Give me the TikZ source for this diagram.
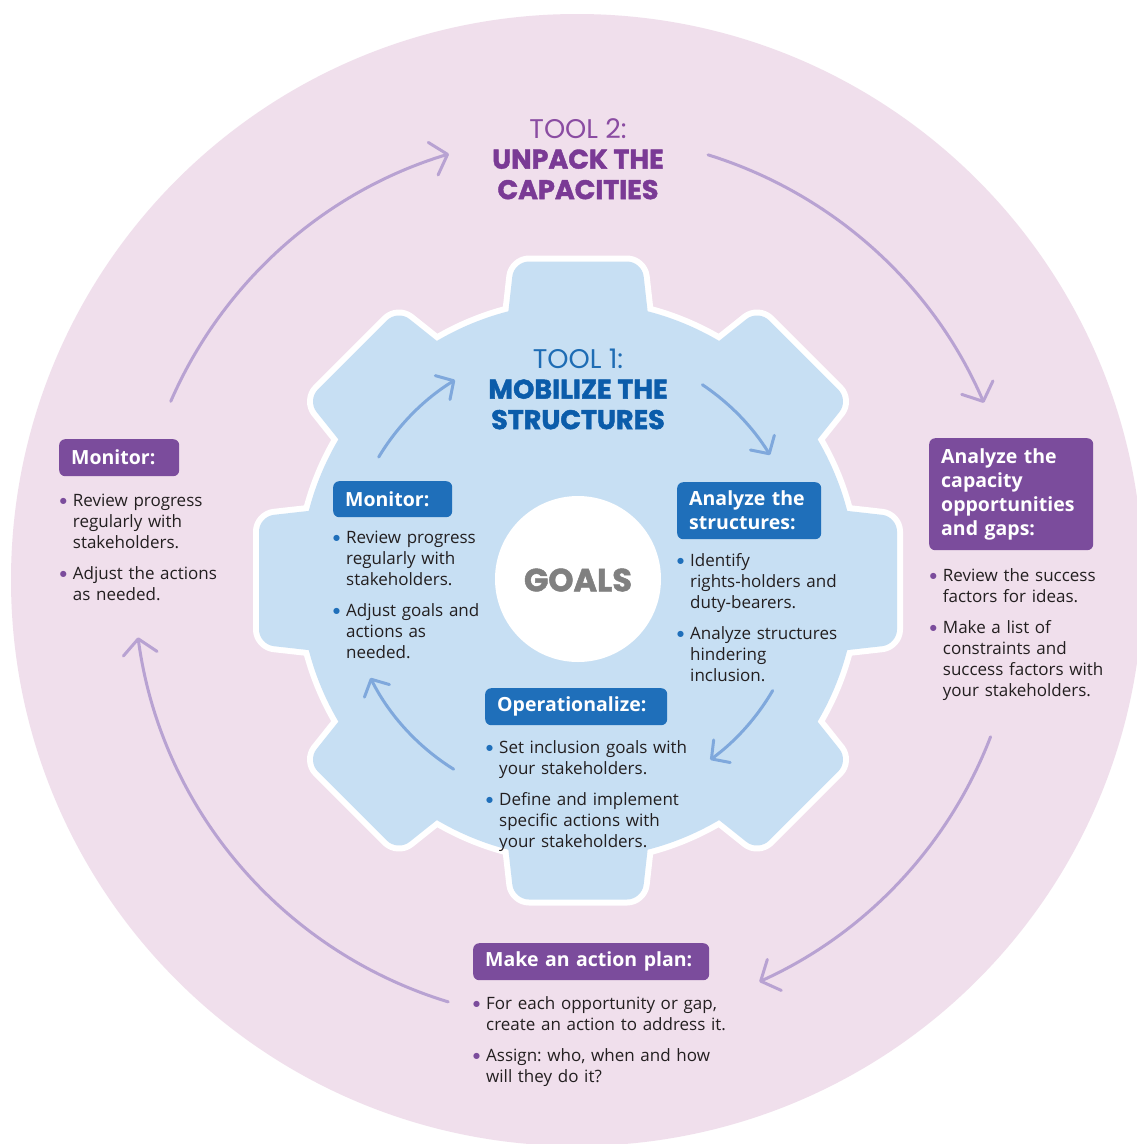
\documentclass[tikz,border=0pt]{standalone}
\usepackage{fontspec}
\setmainfont{Open Sans}
\newfontfamily\titlefont{Poppins}[BoldFeatures={FakeBold=1.6}]
\newfontfamily\bulfont{DejaVu Sans}
\usetikzlibrary{arrows.meta,calc}
\frenchspacing

\definecolor{bgpink}{HTML}{F0DFEC}
\definecolor{gearblue}{HTML}{C7DFF3}
\definecolor{boxpurple}{HTML}{7B4C9C}
\definecolor{boxblue}{HTML}{1F6FBA}
\definecolor{titlepurple}{HTML}{7A3A95}
\definecolor{toolpurple}{HTML}{8A4CA2}
\definecolor{titleblue}{HTML}{0B5CAA}
\definecolor{toolblue}{HTML}{1E6CB4}
\definecolor{arrowpurple}{HTML}{B8A2D2}
\definecolor{arrowblue}{HTML}{7FA8DC}
\definecolor{bodytext}{HTML}{231F20}
\definecolor{goalgray}{HTML}{808080}

\newcommand{\bitem}[2]{\par\hangindent=13pt\hangafter=1\noindent
  \makebox[13pt][l]{\raisebox{3.1pt}{\textcolor{#1}{\bulfont\fontsize{8}{8}\selectfont ●}}}\strut#2\par}
\newcommand{\itemgap}{\vspace{10pt}}

\begin{document}
\begin{tikzpicture}[x=1pt,y=-1pt,
  hdr/.style={anchor=north west, rounded corners=6pt, inner xsep=12pt, inner ysep=0pt,
    text=white, font=\bfseries\fontsize{19.5}{24}\selectfont, align=left},
  blist/.style={anchor=north west, inner sep=0pt, text width=260pt,
    font=\frenchspacing\fontsize{17}{21}\selectfont, text=bodytext},
  outarrow/.style={draw=arrowpurple, line width=3pt, line cap=round,
    -{Straight Barb[length=15pt,width=34pt,round]}},
  inarrow/.style={draw=arrowblue, line width=3pt, line cap=round,
    -{Straight Barb[length=13pt,width=28pt,round]}},
  title/.style={anchor=north, inner sep=0pt, align=center,
    font=\titlefont\fontsize{27}{30.5}\selectfont},
  tooth/.style={rounded corners=15pt},
  gearline/.style={white, line width=12pt, line join=round}
]
\useasboundingbox (0,0) rectangle (1137,1144);
\fill[white] (0,0) rectangle (1137,1144);
\begin{scope}
  \clip (0,0) rectangle (1137,1144);
  \fill[bgpink] (577,580) circle[radius=566];
\end{scope}

% gear: white outline first, then blue body on top
\begin{scope}[shift={(578,580.5)}]
  \foreach \a in {0,45,...,315}
    \draw[gearline, tooth, rotate=\a]
      (230,-74) -- (319,-64) -- (319,64) -- (230,74) -- cycle;
  \draw[gearline] (0,0) circle[radius=278];
  \foreach \a in {0,45,...,315}
    \fill[gearblue, tooth, rotate=\a]
      (230,-74) -- (319,-64) -- (319,64) -- (230,74) -- cycle;
  \fill[gearblue] (0,0) circle[radius=278];
\end{scope}

% goals circle
\node (goals) [circle, fill=white, minimum size=166pt, inner sep=0pt] at (578,579) {};
\node (goalstxt) [font=\titlefont\bfseries\fontsize{32}{32}\selectfont, text=goalgray, inner sep=0pt] at (578,580) {GOALS};

% titles
\node (tool2) [title] at (578,116.6) {\strut\textcolor{toolpurple}{TOOL 2:}\\
  \textcolor{titlepurple}{\bfseries UNPACK THE}\\\textcolor{titlepurple}{\bfseries CAPACITIES}};
\node (tool1) [title] at (578,346.6) {\strut\textcolor{toolblue}{TOOL 1:}\\
  \textcolor{titleblue}{\bfseries MOBILIZE THE}\\\textcolor{titleblue}{\bfseries STRUCTURES}};

% outer boxes
\node (omon) [hdr, fill=boxpurple, text width=96pt, minimum height=37pt] at (59,439) {Monitor:};
\node (oana) [hdr, fill=boxpurple, text width=140pt, minimum height=112pt] at (929,438)
  {Analyze~the\\capacity\\opportunities\\and~gaps:};
\node (oplan) [hdr, fill=boxpurple, text width=212pt, minimum height=37pt] at (473,943)
  {Make~an~action~plan:};

% inner boxes
\node (imon) [hdr, fill=boxblue, text width=95pt, minimum height=36pt] at (333,481) {Monitor:};
\node (iana) [hdr, fill=boxblue, text width=120pt, minimum height=57pt] at (677,482)
  {Analyze~the\\structures:};
\node (iope) [hdr, fill=boxblue, text width=158pt, minimum height=37pt] at (485,688)
  {Operationalize:};

% lists
\node (omonl) [blist] at (59.7,485.3) {%
  \bitem{boxpurple}{Review progress\newline regularly with\newline stakeholders.}\itemgap
  \bitem{boxpurple}{Adjust the actions\newline as needed.}};
\node (oanal) [blist] at (929.7,560) {%
  \bitem{boxpurple}{Review the success\newline factors for ideas.}\itemgap
  \bitem{boxpurple}{Make a list of\newline constraints and\newline success factors with\newline your stakeholders.}};
\node (oplanl) [blist] at (473,988.3) {%
  \bitem{boxpurple}{For each opportunity or gap,\newline create an action to address it.}\itemgap
  \bitem{boxpurple}{Assign: who, when and how\newline will they do it?}};
\node (imonl) [blist] at (333,522.3) {%
  \bitem{boxblue}{Review progress\newline regularly with\newline stakeholders.}\itemgap
  \bitem{boxblue}{Adjust goals and\newline actions as\newline needed.}};
\node (ianal) [blist] at (677,545.3) {%
  \bitem{boxblue}{Identify\newline rights-holders and\newline duty-bearers.}\itemgap
  \bitem{boxblue}{Analyze structures\newline hindering\newline inclusion.}};
\node (iopel) [blist] at (486,732.3) {%
  \bitem{boxblue}{Set inclusion goals with\newline your stakeholders.}\itemgap
  \bitem{boxblue}{Define and implement\newline specific actions with\newline your stakeholders.}};

% outer cycle arrows
\coordinate (OC) at (577,578);
\coordinate (oa1) at ($(OC)+(-156.5:443)$);
\coordinate (oa2) at ($(OC)+(-72.8:443)$);
\coordinate (oa3) at ($(OC)+(21:443)$);
\coordinate (oa4) at ($(OC)+(106.9:443)$);
\draw[outarrow] (oa1) arc[start angle=-156.5, end angle=-106.8, radius=443];
\draw[outarrow] (oa2) arc[start angle=-72.8, end angle=-23.3, radius=443];
\draw[outarrow] (oa3) arc[start angle=21, end angle=65.7, radius=443];
\draw[outarrow] (oa4) arc[start angle=106.9, end angle=172.3, radius=443];

% inner cycle arrows
\coordinate (IC) at (575,575);
\coordinate (ia1) at ($(IC)+(-149:229)$);
\coordinate (ia2) at ($(IC)+(-56.2:229)$);
\coordinate (ia3) at ($(IC)+(30.3:229)$);
\coordinate (ia4) at ($(IC)+(122:229)$);
\draw[inarrow] (ia1) arc[start angle=-149, end angle=-121.6, radius=229];
\draw[inarrow] (ia2) arc[start angle=-56.2, end angle=-31.6, radius=229];
\draw[inarrow] (ia3) arc[start angle=30.3, end angle=53.8, radius=229];
\draw[inarrow] (ia4) arc[start angle=122, end angle=153.3, radius=229];
\end{tikzpicture}
\end{document}
